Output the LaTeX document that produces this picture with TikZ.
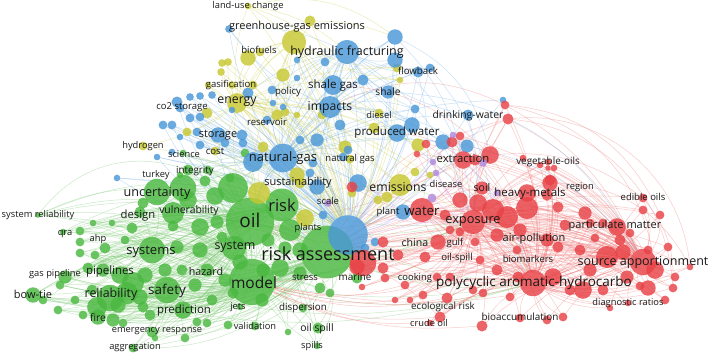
\documentclass[tikz,border=0pt]{standalone}
\usepackage{fontspec}
\setmainfont{Open Sans}
\pgfdeclarelayer{bk}
\pgfdeclarelayer{bg}
\pgfdeclarelayer{fg}
\pgfsetlayers{bk,bg,main,fg}
\definecolor{cG}{RGB}{74,184,64}
\definecolor{cR}{RGB}{232,66,70}
\definecolor{cB}{RGB}{74,152,216}
\definecolor{cY}{RGB}{200,200,50}
\definecolor{cP}{RGB}{176,136,222}
\definecolor{eG}{RGB}{118,200,108}
\definecolor{eR}{RGB}{242,118,118}
\definecolor{eB}{RGB}{118,176,228}
\definecolor{eY}{RGB}{210,210,86}
\definecolor{eP}{RGB}{196,160,230}
\definecolor{lab}{RGB}{25,25,25}
\tikzset{
  dot/.style={circle,inner sep=0pt,outer sep=0pt,draw=none,fill opacity=0.82},
  lbl/.style={inner sep=0pt,text=lab,font=\fontsize{#1}{#1}\selectfont},
  ge/.style={draw=eG,line width=0.5pt,draw opacity=0.38},
  re/.style={draw=eR,line width=0.5pt,draw opacity=0.38},
  be/.style={draw=eB,line width=0.5pt,draw opacity=0.38},
  ye/.style={draw=eY,line width=0.5pt,draw opacity=0.42},
  pe/.style={draw=eP,line width=0.5pt,draw opacity=0.4},
}
\begin{document}
\begin{tikzpicture}[x=1pt,y=-1pt]
\begin{pgfonlayer}{bk}
\fill[white] (0,0) rectangle (711,359);
\end{pgfonlayer}
\useasboundingbox (0,0) rectangle (711,359);
% ---------- circles ----------
\foreach \n/\x/\y/\d in {g1/250/222/44,g2/282/205/30,g3/327/252/48,g4/252/282/42,g5/234/248/22,g6/157/192/24,g7/183/188/24,g8/173/213/20,g9/188/200/16,g10/140/212/10,g11/143/203/10,g12/132/228/10,g13/152/250/24,g14/177/247/12,g15/173/226/10,g16/200/227/16,g17/217/222/12,g18/233/188/27,g19/290/230/20,g20/207/270/12,g21/182/270/10,g22/133/283/20,g23/127/293/20,g24/110/298/24,g25/103/270/12,g26/88/268/10,g27/97/307/18,g28/98/317/14,g29/83/315/8,g30/58/310/8,g31/43/300/8,g32/33/295/14,g33/60/285/8,g34/65/277/12,g35/80/253/8,g36/80/242/8,g37/63/232/6,g38/38/215/5,g39/93/223/6,g40/112/223/6,g41/167/290/24,g42/183/310/16,g43/143/307/10,g44/113/320/12,g45/123/323/8,g46/152/332/10,g47/155/338/6,g48/185/338/8,g49/133/348/8,g50/197/322/8,g51/207/323/8,g52/228/325/8,g53/233/293/10,g54/240/307/6,g55/255/326/8,g56/280/268/16,g57/263/270/12,g58/300/273/12,g59/320/288/10,g60/330/293/8,g61/303/308/8,g62/318/328/10,g63/317/346/6,g64/288/332/6,g65/357/278/10,g66/188/170/10,g67/208/170/8,g68/183/153/6,g69/245/153/8,g70/240/262/14,g71/222/237/10,g72/212/300/10,g73/285/248/12,g74/180/175/6,g75/230/178/8,g76/80/231/8,g77/120/275/16,g78/145/275/14,g79/140/297/14,g80/118/305/14,g81/92/290/10,g82/75/300/8,g83/150/315/10,g84/165/270/12,g85/195/285/12,g86/105/248/10,g87/125/240/8,g88/95/255/8,g89/200/250/14,g90/215/196/16,g91/205/181/10,g92/268/240/12,g93/300/250/14,g94/262/300/12,g95/225/280/12}
  {\pgfmathsetmacro\dd{1.1*\d}\node[dot,fill=cG,minimum size=\dd pt] (\n) at (\x,\y) {};}
\foreach \n/\x/\y/\d in {y1/248/6/6,y2/294/42/22,y3/310/21/10,y4/248/58/14,y5/260/52/8,y6/222/63/7,y7/228/62/7,y8/221/72/7,y9/283/75/12,y10/253/85/8,y11/232/85/7,y12/208/85/6,y13/237/103/18,y14/207/113/10,y15/277/115/10,y16/285/112/8,y17/297/115/6,y18/322/115/8,y19/187/132/8,y20/143/146/8,y21/215/151/8,y22/263/147/10,y23/345/147/12,y24/259/193/20,y25/305/218/16,y26/297/175/14,y27/300/183/10,y28/350/159/8,y29/379/113/8,y30/374/128/10,y31/397/68/8,y32/400/80/6,y33/418/145/12,y34/400/185/20,y35/387/197/10,y36/378/200/8,y37/415/172/8,y38/430/175/6,y39/352/193/8}
  {\pgfmathsetmacro\dd{1.1*\d}\node[dot,fill=cY,minimum size=\dd pt] (\n) at (\x,\y) {};}
\foreach \n/\x/\y/\d in {b1/348/235/36,b2/347/52/22,b3/229/29/7,b4/395/37/14,b5/395/60/14,b6/418/72/10,b7/430/68/8,b8/363/80/10,b9/388/92/12,b10/333/85/18,b11/297/60/6,b12/325/62/8,b13/297/78/6,b14/330/107/20,b15/190/97/7,b16/200/96/7,b17/212/95/7,b18/248/93/10,b19/272/90/8,b20/177/102/10,b21/180/108/8,b22/190/118/8,b23/200/117/8,b24/232/110/6,b25/273/103/6,b26/283/107/6,b27/267/120/8,b28/163/125/8,b29/172/125/8,b30/180/137/6,b31/197/132/8,b32/218/135/14,b33/242/135/10,b34/200/145/8,b35/225/143/8,b36/243/143/8,b37/317/140/12,b38/157/157/6,b39/172/152/6,b40/253/162/18,b41/283/158/26,b42/313/163/8,b43/310/173/8,b44/343/157/8,b45/117/178/6,b46/415/109/8,b47/397/133/16,b48/412/125/14,b49/468/115/10,b50/503/100/6,b51/443/142/14,b52/467/146/12,b53/317/187/14,b55/358/183/16,b56/323/215/8,b57/403/212/14,b59/375/242/8,b60/348/150/8,b62/365/248/8,b63/340/125/10,b64/300/140/8}
  {\pgfmathsetmacro\dd{1.1*\d}\node[dot,fill=cB,minimum size=\dd pt] (\n) at (\x,\y) {};}
\foreach \n/\x/\y/\d in {r1/505/105/8,r2/508/119/10,r3/426/144/8,r4/452/142/10,r5/460/136/8,r6/417/154/6,r7/463/160/16,r8/490/155/16,r9/475/160/10,r10/523/158/6,r11/540/165/6,r12/548/162/6,r13/554/168/6,r14/548/168/5,r15/550/180/10,r16/422/210/22,r17/482/188/12,r18/478/203/16,r19/493/210/20,r20/473/222/22,r21/507/217/20,r22/527/208/20,r23/527/193/16,r24/550/183/14,r25/547/195/10,r26/558/207/10,r27/585/213/12,r28/590/223/8,r29/603/223/8,r30/617/227/16,r31/630/233/8,r32/643/210/8,r33/660/215/8,r34/643/198/8,r35/595/238/8,r36/450/230/8,r37/460/232/8,r38/475/242/8,r39/497/235/12,r40/517/250/8,r41/547/240/12,r42/558/247/10,r43/580/250/10,r44/607/257/20,r45/623/252/14,r46/643/262/24,r47/655/270/16,r48/648/250/8,r49/668/247/8,r50/690/267/6,r51/675/277/8,r52/673/288/8,r53/648/288/14,r54/640/286/8,r55/627/277/12,r56/603/290/10,r57/583/290/16,r58/570/290/10,r59/533/283/24,r60/553/277/16,r61/518/277/10,r62/497/270/10,r63/480/260/8,r64/450/277/8,r65/437/277/8,r66/473/290/8,r67/510/297/8,r68/483/293/8,r69/447/298/10,r70/423/295/8,r71/410/300/6,r72/440/317/10,r73/430/323/6,r74/482/326/10,r75/520/318/8,r76/547/320/8,r77/563/317/8,r78/610/308/6,r79/628/303/6,r80/363/263/24,r81/383/268/10,r82/385/278/8,r83/362/287/6,r84/438/242/14,r85/383/242/10,r86/425/257/10,r87/352/187/10,r88/357/267/14,r89/398/255/10,r90/405/285/8,r91/395/300/6,r92/460/200/14,r93/445/215/10,r94/520/230/12,r95/565/225/10,r96/590/270/12,r97/620/240/10,r98/665/300/8}
  {\pgfmathsetmacro\dd{1.1*\d}\node[dot,fill=cR,minimum size=\dd pt] (\n) at (\x,\y) {};}
\foreach \n/\x/\y/\d in {p1/328/203/7,p2/453/135/6,p3/483/163/7,p4/436/173/6,p5/432/198/8,p6/497/193/6,p7/433/162/6}
  {\pgfmathsetmacro\dd{1.1*\d}\node[dot,fill=cP,minimum size=\dd pt] (\n) at (\x,\y) {};}
% ---------- labels ----------
\begin{pgfonlayer}{fg}
\foreach \n/\x/\y/\s/\t in {
 t1/250/220/19/oil, t2/282/205/16.5/risk, t3/328/254/18/risk assessment, t4/254/283/15.5/model,
 t5/235/247/12.4/system, t6/157/193/12.6/uncertainty, t7/138/216/11.3/design, t8/189/211/10.4/vulnerability,
 t9/151/252/13/systems, t10/110/272/11.4/pipelines, t11/111/294/12.4/reliability, t12/167/291/13.5/safety,
 t13/184/311/11.4/prediction, t14/206/271/10.7/hazard, t15/33/294/11/bow-tie, t16/55/274/9.3/gas pipeline,
 t17/98/239/9.3/ahp, t18/65/234/9.3/qra, t19/38/215/9.3/system reliability, t20/98/318/10.2/fire,
 t21/157/331/9.3/emergency response, t22/135/347/9.3/aggregation, t23/238/307/9.3/jets, t24/255/326/9.3/validation,
 t25/303/308/9.8/dispersion, t26/317/329/10.4/oil spill, t27/312/346/9.3/spills, t28/305/277/9.5/stress,
 t29/355/277/9.8/marine, t30/308/228/9.3/plants, t31/195/171/9.8/integrity, t32/156/175/9.3/turkey,
 t33/184/154/9.3/science, t34/248/6/9.3/land-use change, t35/297/27/11/greenhouse-gas emissions, t36/259/50/9.5/biofuels,
 t37/347/52/12.5/hydraulic fracturing, t38/231/85/9.5/gasification, t39/237/102/12.3/energy, t40/288/92/9.6/policy,
 t41/267/122/9.6/reservoir, t42/215/151/9.6/cost, t43/143/146/9.3/hydrogen, t44/182/107/9.5/co2 storage,
 t45/298/183/11/sustainability, t46/350/159/9.5/natural gas, t47/379/115/9.3/diesel, t48/388/212/9.5/plant,
 t49/333/85/11.6/shale gas, t50/388/92/10.2/shale, t51/418/71/9.7/flowback, t52/330/107/12.2/impacts,
 t53/218/135/11/storage, t54/283/158/13/natural-gas, t55/397/133/11.5/produced water, t56/468/116/10.4/drinking-water,
 t57/398/187/12.3/emissions, t58/328/201/9.5/scale, t59/463/158/11.3/extraction, t60/548/162/9.9/vegetable-oils,
 t61/446/184/9.3/disease, t62/482/188/10.5/soil, t63/530/194/11.5/heavy-metals, t64/580/187/9.3/region,
 t65/643/197/9.5/edible oils, t66/422/211/13.2/water, t67/473/222/12.8/exposure, t68/615/226/11/particulate matter,
 t69/415/243/10.6/china, t70/455/243/9.5/gulf, t71/534/239/11/air-pollution, t72/457/258/9.6/oil-spill,
 t73/528/259/9.5/biomarkers, t74/643/262/12.5/source apportionment, t75/415/278/9.4/cooking,
 t76/534/283/13.5/polycyclic aromatic-hydrocarbo, t77/443/307/9.8/ecological risk, t78/429/323/9.3/crude oil,
 t79/520/317/9.9/bioaccumulation, t80/628/303/9.3/diagnostic ratios}
  \node[lbl=\s] (\n) at (\x,\y) {\t};
\end{pgfonlayer}
% ---------- edges ----------
\begin{pgfonlayer}{bg}
% green
\foreach \a in {g2,g6,g7,g8,g9,g10,g11,g12,g15,g16,g17,g18,g36,g37,g38,g39,g40,g66,g67,g68,g69,g74,g75,g76,g87,g90,g91} {
  \draw[ge] (\a) to[bend left=16] (g1);
  \draw[ge] (\a) to[bend left=18] (g3);
  \draw[ge] (\a) to[bend left=12] (g4);
}
\foreach \a in {g5,g13,g14,g19,g20,g21,g22,g23,g24,g25,g26,g27,g28,g29,g30,g31,g32,g33,g34,g35,g41,g42,g43,g44,g45,g46,g47,g48,g49,g50,g51,g52,g53,g54,g55,g56,g57,g58,g59,g60,g61,g62,g63,g64,g65,g70,g71,g72,g73,g77,g78,g79,g80,g81,g82,g83,g84,g85,g86,g88,g89,g92,g93,g94,g95} {
  \draw[ge] (\a) to[bend right=16] (g1);
  \draw[ge] (\a) to[bend right=18] (g3);
  \draw[ge] (\a) to[bend right=12] (g4);
}
\foreach \a in {g22,g23,g24,g27,g28,g32,g34,g42,g46,g26,g25,g30,g31,g33,g49,g44,g77,g78,g79,g80,g81,g82,g83,g86,g88,g29,g43,g45,g47,g48}
  {\draw[ge] (\a) to[bend right=10] (g41);
   \draw[ge] (\a) to[bend left=10] (g2);}
\foreach \a in {g6,g10,g12,g36,g76,g37,g35,g25,g26,g22,g38,g86,g87,g88,g77,g34,g33,g32,g39,g40}
  {\draw[ge] (\a) to[bend left=10] (g13);
   \draw[ge] (\a) to[bend left=14] (g5);}
\draw[ge] (g38) to[bend left=35] (g66);
\draw[ge] (g38) to[bend left=25] (g1);
\draw[ge] (g38) to[bend left=20] (g2);
\draw[ge] (g37) to[bend left=20] (g2);
\draw[ge] (g49) to[bend right=25] (g3);
\draw[ge] (g32) to[bend right=22] (g3);
\draw[ge] (g30) to[bend right=25] (g3);
\draw[ge] (g63) to[bend left=10] (g4);
\draw[ge] (g1) to[bend left=10] (g3);
\draw[ge] (g2) to[bend left=10] (g3);
\draw[ge] (g1) to[bend right=10] (g4);
\foreach \a in {g1,g3,g4,g41,g24,g13,g2} {
  \draw[ge] (\a) to[bend right=14] (r59);
  \draw[ge] (\a) to[bend right=10] (r20);
}
\foreach \a in {g1,g2,g3,g6,g13,g7,g18,g66,g12} {
  \draw[ge] (\a) to[bend left=12] (b41);
  \draw[ge] (\a) to[bend left=14] (b1);
}
% red
\foreach \a in {r1,r2,r3,r4,r5,r6,r7,r8,r9,r10,r11,r12,r13,r14,r15,r16,r17,r18,r19,r21,r22,r23,r24,r25,r26,r27,r28,r29,r30,r31,r32,r33,r34,r35,r36,r37,r38,r39,r40,r41,r42,r43,r44,r45,r47,r48,r49,r50,r51,r52,r53,r54,r55,r56,r57,r58,r60,r61,r62,r63,r64,r65,r66,r67,r68,r69,r70,r71,r72,r73,r74,r75,r76,r77,r78,r79,r80,r81,r82,r83,r84,r85,r86,r87,r88,r89,r90,r91,r92,r93,r94,r95,r96,r97,r98} {
  \draw[re] (\a) to[bend left=16] (r59);
  \draw[re] (\a) to[bend left=18] (r46);
  \draw[re] (\a) to[bend right=12] (r20);
}
\foreach \a in {r1,r2,r7,r8,r15,r17,r18,r19,r21,r22,r23,r24,r27,r30,r36,r39,r41,r44,r45,r53,r57,r60,r62,r84,r92,r94}
  \draw[re] (\a) to[bend left=14] (r16);
\draw[re] (r59) to[bend left=10] (r46);
\draw[re] (r20) to[bend left=10] (r59);
\draw[re] (r20) to[bend left=15] (r46);
\foreach \a in {r7,r16,r20,r59,r46,r44,r19,r84,r80,r69,r72,r65,r53,r57,r30,r27,r3,r2,r8,r17,r22,r41,r89,r92}
  \draw[re] (\a) to[bend right=12] (g3);
\foreach \a in {r59,r69,r72,r73,r74,r20,r46,r64,r70,r90}
  \draw[re] (\a) to[bend left=14] (g4);
\foreach \a in {r16,r20,r59,r84,r7}
  \draw[re] (\a) to[bend left=12] (g1);
\draw[re] (r2) to[bend left=45] (r50);
\draw[re] (r2) to[bend left=40] (r52);
\draw[re] (r1) to[bend left=35] (r47);
\draw[re] (r1) to[bend left=30] (r33);
\draw[re] (r8) to[bend left=20] (r34);
\draw[re] (r24) to[bend left=30] (r50);
\draw[re] (r34) to[bend left=20] (r52);
\draw[re] (r2) to[bend right=20] (b1);
\draw[re] (r1) to[bend right=25] (b14);
\draw[re] (r7) to[bend right=15] (b47);
\draw[re] (r8) to[bend right=20] (b10);
% blue
\foreach \a in {b3,b4,b5,b6,b7,b8,b9,b10,b11,b12,b13,b15,b16,b17,b18,b19,b20,b21,b22,b23,b24,b25,b26,b27,b28,b29,b30,b31,b32,b33,b34,b35,b36,b37,b38,b39,b40,b42,b43,b44,b45,b46,b47,b48,b49,b50,b51,b52,b53,b55,b56,b57,b59,b60,b62,b63,b64} {
  \draw[be] (\a) to[bend left=10] (b1);
  \draw[be] (\a) to[bend right=12] (b41);
}
\foreach \a in {b3,b4,b5,b6,b7,b8,b9,b10,b11,b12,b13,b18,b19,b25,b26,b37,b46,b47,b48,b49,b44,b42,b51,b63}
  \draw[be] (\a) to[bend left=14] (b2);
\foreach \a in {b3,b4,b5,b8,b9,b10,b12,b37,b47,b48,b51,b52,b46,b6,b18,b19,b63,b64}
  \draw[be] (\a) to[bend right=14] (b14);
\draw[be] (b2) to[bend left=10] (b1);
\draw[be] (b41) to[bend right=10] (b1);
\draw[be] (b14) to[bend left=8] (b1);
\draw[be] (b2) to[bend right=10] (b14);
\draw[be] (b2) to[bend right=15] (b41);
\draw[be] (b14) to[bend right=10] (b41);
\foreach \a in {b41,b40,b32,b20,b28,b38,b45,b14,b2,b10,b29}
  \draw[be] (\a) to[bend right=12] (g1);
\foreach \a in {b41,b32,b14,b2,b10,b47,b20}
  \draw[be] (\a) to[bend right=10] (g3);
\draw[be] (b4) to[bend left=15] (r7);
\draw[be] (b5) to[bend left=20] (r20);
\draw[be] (b7) to[bend left=15] (r19);
\draw[be] (b6) to[bend left=10] (r16);
\draw[be] (b49) to[bend left=10] (r20);
\draw[be] (b51) to[bend left=15] (r59);
\draw[be] (b52) to[bend left=20] (r46);
\draw[be] (b47) to[bend left=10] (r59);
\draw[be] (b9) to[bend left=30] (r46);
\draw[be] (b4) to[bend left=25] (r8);
\draw[be] (b2) to[bend left=20] (r20);
% yellow
\foreach \a in {y1,y3,y4,y5,y6,y7,y8,y9,y10,y11,y12,y14,y15,y16,y17,y18,y19,y20,y21,y22,y23,y24,y25,y26,y27,y28,y29,y30,y31,y32,y33,y34,y35,y36,y37,y38,y39} {
  \draw[ye] (\a) to[bend right=12] (y13);
  \draw[ye] (\a) to[bend left=12] (b1);
}
\foreach \a in {y3,y4,y5,y9,y10,y15,y16,y18,y23,y26,y29,y30,y31,y32,y33,y34}
  \draw[ye] (\a) to[bend left=12] (y2);
\draw[ye] (y1) to[bend left=25] (b4);
\draw[ye] (y1) to[bend left=15] (b2);
\draw[ye] (y1) to[bend left=30] (y34);
\draw[ye] (y1) to[bend left=10] (b10);
\draw[ye] (y3) to[bend left=10] (b4);
\draw[ye] (y2) to[bend left=10] (b1);
\draw[ye] (y13) to[bend left=10] (b1);
\draw[ye] (y2) to[bend right=10] (y13);
\foreach \a in {y13,y2,y24,y25,y34}
  \draw[ye] (\a) to[bend right=12] (g1);
\draw[ye] (y34) to[bend left=10] (r20);
\draw[ye] (y33) to[bend left=15] (r59);
% purple
\foreach \a in {p1,p2,p3,p4,p5,p6,p7} {
  \draw[pe] (\a) to[bend left=10] (b1);
  \draw[pe] (\a) to[bend right=10] (r20);
}
\end{pgfonlayer}
\end{tikzpicture}
\end{document}
